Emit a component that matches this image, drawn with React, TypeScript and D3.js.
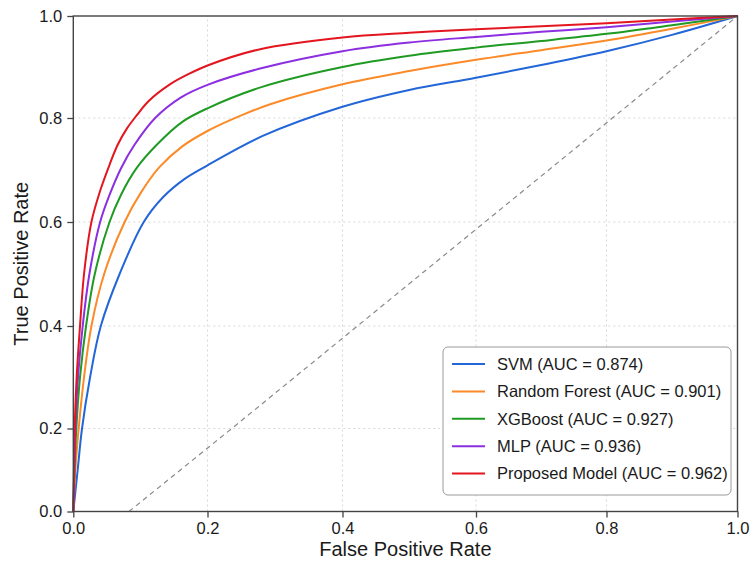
import React, { useRef, useEffect } from 'react';
import * as d3 from 'd3';

// ROC points, [fpr, tpr]
const svmRoc: [number, number][] = [
  [0, 0], [0.0065, 0.1], [0.013, 0.2], [0.025, 0.3], [0.041, 0.4], [0.069, 0.5],
  [0.105, 0.6], [0.134, 0.648], [0.166, 0.683], [0.2, 0.709], [0.281, 0.765], [0.4, 0.822],
  [0.5, 0.855], [0.6, 0.879], [0.7, 0.904], [0.8, 0.931], [0.9, 0.963], [1, 1],
];
const rfRoc: [number, number][] = [
  [0, 0], [0.003, 0.1], [0.008, 0.2], [0.016, 0.3], [0.027, 0.4], [0.046, 0.5],
  [0.0765, 0.6], [0.1, 0.655], [0.128, 0.705], [0.162, 0.745], [0.2, 0.775],
  [0.25, 0.805], [0.293, 0.827], [0.4, 0.866], [0.5, 0.892], [0.6, 0.914],
  [0.7, 0.933], [0.8, 0.952], [0.9, 0.975], [1, 1],
];
const xgbRoc: [number, number][] = [
  [0, 0], [0.002, 0.1], [0.0045, 0.2], [0.01, 0.3], [0.019, 0.4], [0.032, 0.5],
  [0.054, 0.6], [0.071, 0.652], [0.094, 0.703], [0.124, 0.748], [0.163, 0.793],
  [0.2, 0.819], [0.281, 0.861], [0.4, 0.9], [0.5, 0.922], [0.6, 0.938],
  [0.7, 0.951], [0.8, 0.965], [0.9, 0.982], [1, 1],
];
const mlpRoc: [number, number][] = [
  [0, 0], [0.0015, 0.1], [0.003, 0.2], [0.007, 0.3], [0.014, 0.4], [0.024, 0.5],
  [0.04, 0.6], [0.054, 0.652], [0.071, 0.703], [0.091, 0.748], [0.122, 0.8],
  [0.16, 0.84], [0.2, 0.865], [0.281, 0.898], [0.4, 0.931], [0.5, 0.948],
  [0.6, 0.959], [0.7, 0.969], [0.8, 0.978], [0.9, 0.989], [1, 1],
];
const proposedRoc: [number, number][] = [
  [0, 0], [0.001, 0.1], [0.002, 0.2], [0.005, 0.3], [0.01, 0.4], [0.016, 0.5],
  [0.027, 0.6], [0.04, 0.66], [0.054, 0.71], [0.066, 0.748], [0.08, 0.78],
  [0.095, 0.806], [0.112, 0.833], [0.144, 0.866], [0.17, 0.885], [0.2, 0.903],
  [0.278, 0.935], [0.4, 0.958], [0.5, 0.967], [0.6, 0.974], [0.7, 0.98],
  [0.8, 0.986], [0.9, 0.993], [1, 1],
];

// chance line as drawn in the reference (does not start at the origin)
const chanceLine: [number, number][] = [[0.083, 0], [0.236, 0.2], [1, 1]];

const modelNames = ['SVM', 'Random Forest', 'XGBoost', 'MLP', 'Proposed Model'];
const aucValues = [0.874, 0.901, 0.927, 0.936, 0.962];
const modelColors = ['#2366d8', '#fb8a28', '#1f9a23', '#8c2fe0', '#e3161f'];
const rocSeries = [svmRoc, rfRoc, xgbRoc, mlpRoc, proposedRoc];

const tickValues = [0, 0.2, 0.4, 0.6, 0.8, 1.0];

const W = 751;
const H = 563;
const FONT = '"Liberation Sans", Arial, Helvetica, sans-serif';

const RocChart = () => {
  const svgRef = useRef<SVGSVGElement>(null);

  useEffect(() => {
    // tick positions in the picture are not quite evenly spaced
    const x = d3.scaleLinear()
      .domain(tickValues)
      .range([73.3, 207.5, 342.5, 476, 606.5, 737.5]);
    const y = d3.scaleLinear()
      .domain(tickValues)
      .range([511.5, 428.5, 326, 222, 118, 16]);

    const svg = d3.select(svgRef.current)
      .attr('width', W)
      .attr('height', H)
      .html('');

    svg.append('rect').attr('width', W).attr('height', H).attr('fill', '#ffffff');

    const [x0, x1] = [x(0), x(1)];
    const [y0, y1] = [y(0), y(1)];

    // Grid
    const grid = svg.append('g')
      .attr('stroke', '#d4d4d4')
      .attr('stroke-width', 0.9)
      .attr('stroke-dasharray', '2,3');
    grid.selectAll('.gx')
      .data(tickValues.slice(1, -1))
      .enter()
      .append('line')
        .attr('x1', d => x(d)).attr('x2', d => x(d))
        .attr('y1', y0).attr('y2', y1);
    grid.selectAll('.gy')
      .data(tickValues.slice(1, -1))
      .enter()
      .append('line')
        .attr('y1', d => y(d)).attr('y2', d => y(d))
        .attr('x1', x0).attr('x2', x1);

    // Chance line
    const line = d3.line<[number, number]>()
      .x(d => x(d[0]))
      .y(d => y(d[1]));
    svg.append('path')
      .attr('d', line(chanceLine))
      .attr('fill', 'none')
      .attr('stroke', '#8a8a8a')
      .attr('stroke-width', 1.2)
      .attr('stroke-dasharray', '5,4');

    // ROC curves
    const curve = d3.line<[number, number]>()
      .x(d => x(d[0]))
      .y(d => y(d[1]))
      .curve(d3.curveCatmullRom.alpha(0.5));
    svg.selectAll('.roc')
      .data(rocSeries)
      .enter()
      .append('path')
        .attr('class', 'roc')
        .attr('d', d => curve(d))
        .attr('fill', 'none')
        .attr('stroke', (d, i) => modelColors[i])
        .attr('stroke-width', 2)
        .attr('stroke-linejoin', 'round');

    // Axes
    const fmt = d3.format('.1f');
    const xAxis = svg.append('g')
      .attr('transform', `translate(0,${y0})`)
      .call(d3.axisBottom(x).tickValues(tickValues).tickFormat(d => fmt(+d)).tickSize(6).tickPadding(5));
    const yAxis = svg.append('g')
      .attr('transform', `translate(${x0},0)`)
      .call(d3.axisLeft(y).tickValues(tickValues).tickFormat(d => fmt(+d)).tickSize(6).tickPadding(5));
    [xAxis, yAxis].forEach(a => {
      a.select('.domain').remove();
      a.selectAll('line').attr('stroke', '#444').attr('stroke-width', 1.3);
      a.selectAll('text')
        .attr('fill', '#1a1a1a')
        .style('font-family', FONT)
        .style('font-size', '16.5px');
    });

    // Frame
    svg.append('rect')
      .attr('x', x0).attr('y', y1)
      .attr('width', x1 - x0).attr('height', y0 - y1)
      .attr('fill', 'none')
      .attr('stroke', '#444')
      .attr('stroke-width', 1.4);

    // Axis titles
    svg.append('text')
      .attr('x', (x0 + x1) / 2)
      .attr('y', 556)
      .attr('text-anchor', 'middle')
      .attr('fill', '#1a1a1a')
      .style('font-family', FONT)
      .style('font-size', '20px')
      .text('False Positive Rate');
    svg.append('text')
      .attr('transform', `translate(28,${(y0 + y1) / 2}) rotate(-90)`)
      .attr('text-anchor', 'middle')
      .attr('fill', '#1a1a1a')
      .style('font-family', FONT)
      .style('font-size', '20px')
      .text('True Positive Rate');

    // Legend
    const legend = svg.append('g').attr('transform', 'translate(443,347)');
    legend.append('rect')
      .attr('width', 288)
      .attr('height', 148)
      .attr('rx', 5)
      .attr('fill', '#ffffff')
      .attr('stroke', '#9a9a9a')
      .attr('stroke-width', 1);
    const rows = legend.selectAll('.row')
      .data(modelNames)
      .enter()
      .append('g')
        .attr('transform', (d, i) => `translate(0,${17 + i * 27.4})`);
    rows.append('line')
      .attr('x1', 9).attr('x2', 42)
      .attr('stroke', (d, i) => modelColors[i])
      .attr('stroke-width', 2);
    rows.append('text')
      .attr('x', 54)
      .attr('dy', '0.35em')
      .attr('fill', '#1a1a1a')
      .style('font-family', FONT)
      .style('font-size', '16.5px')
      .text((d, i) => `${d} (AUC = ${aucValues[i].toFixed(3)})`);
  }, []);

  return <svg ref={svgRef} style={{ position: 'absolute', left: 0, top: 0, display: 'block' }} />;
};

export default function App() {
  return <RocChart />;
}
